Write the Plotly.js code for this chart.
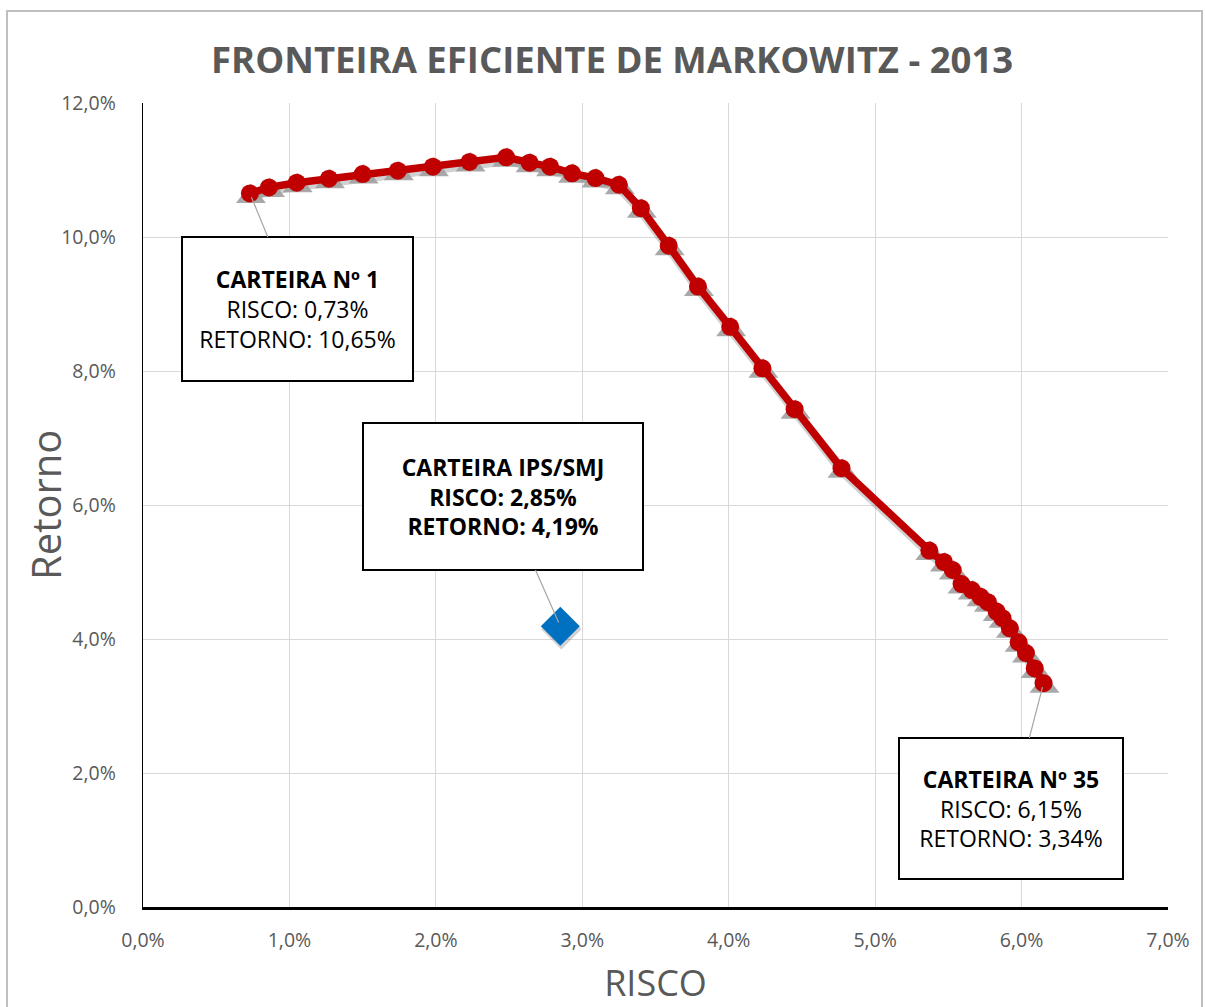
<!DOCTYPE html>
<html>
<head>
<meta charset="utf-8">
<script src="https://cdn.plot.ly/plotly-3.0.1.min.js"></script>
<style>
  body { margin:0; padding:0; background:#fff; }
  #chart { width:1205px; height:1007px; }
  #frame { position:absolute; left:6px; top:10px; width:1193px; height:1010px; border:2px solid #bfbfbf; pointer-events:none; }
</style>
</head>
<body>
<div id="chart"></div>
<div id="frame"></div>
<script>
// Efficient frontier portfolios (risk %, return %)
const risco = [0.73, 0.86, 1.05, 1.27, 1.50, 1.74, 1.98, 2.23, 2.48, 2.64, 2.78, 2.93, 3.09, 3.25, 3.40,
               3.59, 3.79, 4.01, 4.23, 4.45, 4.77,
               5.37, 5.47, 5.53, 5.59, 5.66, 5.72, 5.77, 5.83, 5.87, 5.92, 5.98, 6.03, 6.09, 6.15];
const retorno = [10.65, 10.74, 10.81, 10.87, 10.94, 10.99, 11.05, 11.12, 11.19, 11.11, 11.05, 10.95, 10.88, 10.78, 10.43,
                 9.87, 9.26, 8.66, 8.04, 7.43, 6.55,
                 5.32, 5.15, 5.03, 4.82, 4.73, 4.63, 4.55, 4.41, 4.31, 4.16, 3.95, 3.79, 3.56, 3.34];
// Current portfolio
const ipsRisco = [2.85];
const ipsRetorno = [4.19];

const xTickVals = [0, 1, 2, 3, 4, 5, 6, 7];
const xTickText = ['0,0%', '1,0%', '2,0%', '3,0%', '4,0%', '5,0%', '6,0%', '7,0%'];
const yTickVals = [0, 2, 4, 6, 8, 10, 12];
const yTickText = ['0,0%', '2,0%', '4,0%', '6,0%', '8,0%', '10,0%', '12,0%'];

const xRange = [0, 7];
const yRange = [0, 12];

// plot area pixel geometry (used for shadow overlay offsets)
const plotW = 1025, plotH = 804;
const dxPx = 1, dyPx = 3;
const ux = (xRange[1] - xRange[0]) / plotW;
const uy = (yRange[1] - yRange[0]) / plotH;

const font = "'Open Sans', 'Noto Sans', sans-serif";
const grey = '#595959';

const traces = [
  { // line shadow
    x: risco, y: retorno, xaxis: 'x2', yaxis: 'y2', type: 'scatter', mode: 'lines',
    line: { color: 'rgba(0,0,0,0.18)', width: 10 }, hoverinfo: 'skip', showlegend: false
  },
  { // triangle shadow markers
    x: risco, y: retorno, xaxis: 'x2', yaxis: 'y2', type: 'scatter', mode: 'markers',
    marker: { symbol: 'triangle-up', size: 26, color: 'rgba(160,160,160,0.9)' },
    hoverinfo: 'skip', showlegend: false
  },
  { // diamond shadow
    x: ipsRisco, y: ipsRetorno, xaxis: 'x2', yaxis: 'y2', type: 'scatter', mode: 'markers',
    marker: { symbol: 'diamond', size: 31, color: 'rgba(0,0,0,0.18)' },
    hoverinfo: 'skip', showlegend: false
  },
  {
    x: risco, y: retorno, xaxis: 'x3', yaxis: 'y3', type: 'scatter', mode: 'lines+markers', name: 'Fronteira',
    line: { color: '#C00000', width: 7.5 },
    marker: { symbol: 'circle', size: 18, color: '#C00000' },
    showlegend: false
  },
  {
    x: ipsRisco, y: ipsRetorno, xaxis: 'x3', yaxis: 'y3', type: 'scatter', mode: 'markers', name: 'Carteira IPS/SMJ',
    marker: { symbol: 'diamond', size: 30, color: '#0070C0' },
    showlegend: false
  }
];

const annFont = { family: font, size: 23, color: '#000' };
const annCommon = {
  xref: 'x', yref: 'y', axref: 'x', ayref: 'y',
  showarrow: true, arrowhead: 0, arrowwidth: 1.2, arrowcolor: '#a6a6a6',
  bgcolor: '#ffffff', bordercolor: '#000000', borderwidth: 2, borderpad: 0,
  font: annFont, align: 'center', valign: 'middle', standoff: 4
};

const layout = {
  width: 1205, height: 1007,
  paper_bgcolor: '#ffffff', plot_bgcolor: '#ffffff',
  margin: { l: 143, r: 37, t: 103, b: 100 },
  title: {
    text: 'FRONTEIRA EFICIENTE DE MARKOWITZ - 2013',
    font: { family: font, size: 36.5, color: grey, weight: 'bold' },
    x: 0.508, xref: 'container', xanchor: 'center',
    y: 1 - 60 / 1007, yref: 'container', yanchor: 'middle'
  },
  xaxis: {
    range: xRange, tickvals: xTickVals, ticktext: xTickText,
    showgrid: true, gridcolor: '#d9d9d9', gridwidth: 1,
    zeroline: false, showline: true, linecolor: '#000', linewidth: 2.5,
    ticks: 'outside', ticklen: 14, tickcolor: 'rgba(0,0,0,0)',
    tickfont: { family: font, size: 19.5, color: grey },
    title: { text: 'RISCO', font: { family: font, size: 36, color: grey }, standoff: 22 }
  },
  yaxis: {
    range: yRange, tickvals: yTickVals, ticktext: yTickText,
    showgrid: true, gridcolor: '#d9d9d9', gridwidth: 1,
    zeroline: false, showline: true, linecolor: '#000', linewidth: 1.3,
    ticks: 'outside', ticklen: 22, tickcolor: 'rgba(0,0,0,0)',
    tickfont: { family: font, size: 19.5, color: grey }
  },
  xaxis2: {
    overlaying: 'x', anchor: 'y2', range: [xRange[0] - dxPx * ux, xRange[1] - dxPx * ux],
    visible: false, showgrid: false
  },
  yaxis2: {
    overlaying: 'y', anchor: 'x2', range: [yRange[0] + dyPx * uy, yRange[1] + dyPx * uy],
    visible: false, showgrid: false
  },
  xaxis3: { overlaying: 'x', anchor: 'y3', range: xRange, visible: false, showgrid: false },
  yaxis3: { overlaying: 'y', anchor: 'x3', range: yRange, visible: false, showgrid: false },
  annotations: [
    { // y axis title
      text: 'Retorno', xref: 'paper', yref: 'paper', x: -(143 - 45) / plotW, y: 0.5,
      xanchor: 'center', yanchor: 'middle', textangle: -90, showarrow: false,
      font: { family: font, size: 40, color: grey }
    },
    Object.assign({}, annCommon, {
      x: risco[0], y: retorno[0], ax: 1.055, ay: 8.925,
      width: 229, height: 142,
      text: '<b>CARTEIRA Nº 1</b><br>RISCO: 0,73%<br>RETORNO: 10,65%'
    }),
    Object.assign({}, annCommon, {
      x: ipsRisco[0], y: ipsRetorno[0], ax: 2.459, ay: 6.127,
      width: 278, height: 145,
      text: '<b>CARTEIRA IPS/SMJ<br>RISCO: 2,85%<br>RETORNO: 4,19%</b>'
    }),
    Object.assign({}, annCommon, {
      x: risco[risco.length - 1], y: retorno[retorno.length - 1], ax: 5.928, ay: 1.47,
      width: 222, height: 139,
      text: '<b>CARTEIRA Nº 35</b><br>RISCO: 6,15%<br>RETORNO: 3,34%'
    })
  ],
  showlegend: false
};

Plotly.newPlot('chart', traces, layout, { displayModeBar: false, staticPlot: true });
</script>
</body>
</html>
